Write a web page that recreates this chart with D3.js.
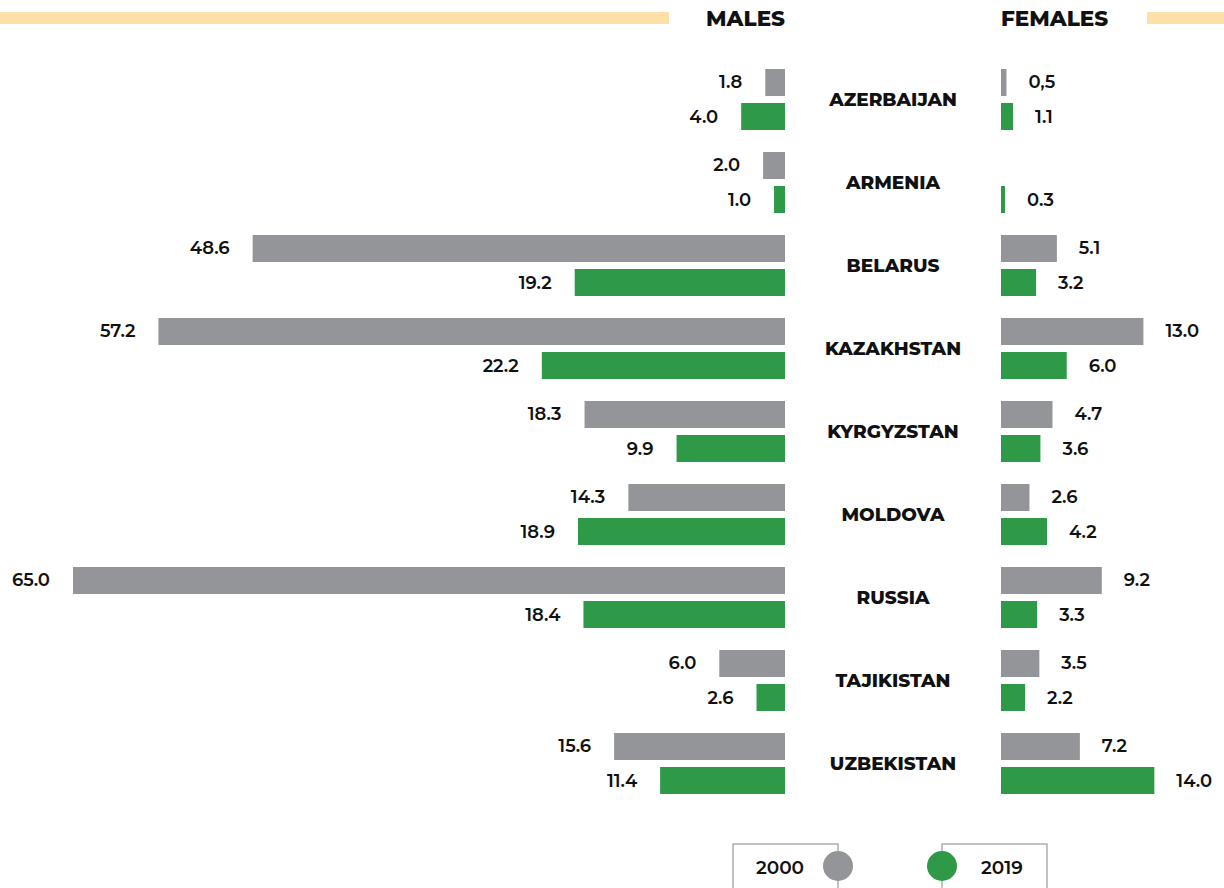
<!doctype html>
<html lang="en">
<head>
<meta charset="utf-8">
<script src="https://cdn.jsdelivr.net/npm/d3@7"></script>
<style type="text/css">
html, body { margin: 0; padding: 0; background: #ffffff; }
svg { display: block; }
svg text { font-family: Montserrat, "DejaVu Sans", sans-serif; fill: #111111; }
.val { font-size: 18px; font-weight: 600; }
.country { font-size: 18.5px; font-weight: 800; }
.head { font-size: 21.5px; font-weight: 800; }
.leg { font-size: 18.5px; font-weight: 600; }
</style>
</head>
<body>
<svg width="1224" height="888"></svg>
<script>
// values
var countries = ["AZERBAIJAN", "ARMENIA", "BELARUS", "KAZAKHSTAN", "KYRGYZSTAN",
                 "MOLDOVA", "RUSSIA", "TAJIKISTAN", "UZBEKISTAN"];
var years = ["2000", "2019"];
var males2000   = [1.8, 2.0, 48.6, 57.2, 18.3, 14.3, 65.0, 6.0, 15.6];
var males2019   = [4.0, 1.0, 19.2, 22.2, 9.9, 18.9, 18.4, 2.6, 11.4];
var females2000 = [0.5, null, 5.1, 13.0, 4.7, 2.6, 9.2, 3.5, 7.2];
var females2019 = [1.1, 0.3, 3.2, 6.0, 3.6, 4.2, 3.3, 2.2, 14.0];
// the source prints the first one with a comma
var females2000Labels = ["0,5", "", "5.1", "13.0", "4.7", "2.6", "9.2", "3.5", "7.2"];

var colors = { "2000": "#939598", "2019": "#2e9a48" };

var svg = d3.select("svg");

var maleAxis = 785, femaleAxis = 1001;

var x = d3.scaleLinear().domain([0, 65]).range([0, 712]);
var row = d3.scaleBand().domain(countries).range([62, 62 + 83 * countries.length]);
var yr = d3.scaleBand().domain(years).range([7, 68]).paddingInner(0.206).paddingOuter(0);

// build rows
var rows = countries.map(function(c, i) {
    return {
        country: c,
        males: [
            { year: "2000", v: males2000[i], label: males2000[i].toFixed(1) },
            { year: "2019", v: males2019[i], label: males2019[i].toFixed(1) }
        ],
        females: [
            { year: "2000", v: females2000[i], label: females2000Labels[i] },
            { year: "2019", v: females2019[i], label: females2019[i].toFixed(1) }
        ]
    };
});

// header
svg.append("rect").attr("x", 0).attr("y", 12).attr("width", 669).attr("height", 12).attr("fill", "#fde0a8");
svg.append("rect").attr("x", 1147).attr("y", 12).attr("width", 77).attr("height", 12).attr("fill", "#fde0a8");
svg.append("text").attr("class", "head").attr("x", maleAxis).attr("y", 18)
    .attr("text-anchor", "end").attr("dominant-baseline", "central").text("MALES");
svg.append("text").attr("class", "head").attr("x", femaleAxis).attr("y", 18)
    .attr("text-anchor", "start").attr("dominant-baseline", "central").text("FEMALES");

var g = svg.selectAll("g.row").data(rows).enter().append("g")
    .attr("class", "row")
    .attr("transform", function(d) { return "translate(0," + row(d.country) + ")"; });

g.append("text").attr("class", "country")
    .attr("x", (maleAxis + femaleAxis) / 2)
    .attr("y", (yr("2000") + yr("2019") + yr.bandwidth()) / 2)
    .attr("text-anchor", "middle").attr("dominant-baseline", "central")
    .text(function(d) { return d.country; });

// males, growing to the left
var m = g.selectAll("g.m").data(function(d) { return d.males; }).enter().append("g").attr("class", "m");
m.append("rect")
    .attr("x", function(d) { return maleAxis - x(d.v); })
    .attr("y", function(d) { return yr(d.year); })
    .attr("width", function(d) { return x(d.v); })
    .attr("height", yr.bandwidth())
    .attr("fill", function(d) { return colors[d.year]; });
m.append("text").attr("class", "val")
    .attr("x", function(d) { return maleAxis - x(d.v) - 23; })
    .attr("y", function(d) { return yr(d.year) + yr.bandwidth() / 2; })
    .attr("text-anchor", "end").attr("dominant-baseline", "central")
    .text(function(d) { return d.label; });

// females, growing to the right
var f = g.selectAll("g.f").data(function(d) { return d.females.filter(function(e) { return e.v != null; }); })
    .enter().append("g").attr("class", "f");
f.append("rect")
    .attr("x", femaleAxis)
    .attr("y", function(d) { return yr(d.year); })
    .attr("width", function(d) { return Math.max(x(d.v), 4); })
    .attr("height", yr.bandwidth())
    .attr("fill", function(d) { return colors[d.year]; });
f.append("text").attr("class", "val")
    .attr("x", function(d) { return femaleAxis + Math.max(x(d.v), 4) + 22; })
    .attr("y", function(d) { return yr(d.year) + yr.bandwidth() / 2; })
    .attr("text-anchor", "start").attr("dominant-baseline", "central")
    .text(function(d) { return d.label; });

// legend
var legend = [
    { year: "2000", box: 733, circle: 838, text: 780 },
    { year: "2019", box: 942, circle: 942, text: 1002 }
];
var lg = svg.selectAll("g.legend").data(legend).enter().append("g").attr("class", "legend");
lg.append("rect")
    .attr("x", function(d) { return d.box; }).attr("y", 844)
    .attr("width", 105).attr("height", 60)
    .attr("fill", "#ffffff").attr("stroke", "#9a9a9a").attr("stroke-width", 1.2);
lg.append("circle")
    .attr("cx", function(d) { return d.circle; }).attr("cy", 866).attr("r", 15)
    .attr("fill", function(d) { return colors[d.year]; });
lg.append("text").attr("class", "leg")
    .attr("x", function(d) { return d.text; }).attr("y", 867)
    .attr("text-anchor", "middle").attr("dominant-baseline", "central")
    .text(function(d) { return d.year; });
</script>
</body>
</html>
